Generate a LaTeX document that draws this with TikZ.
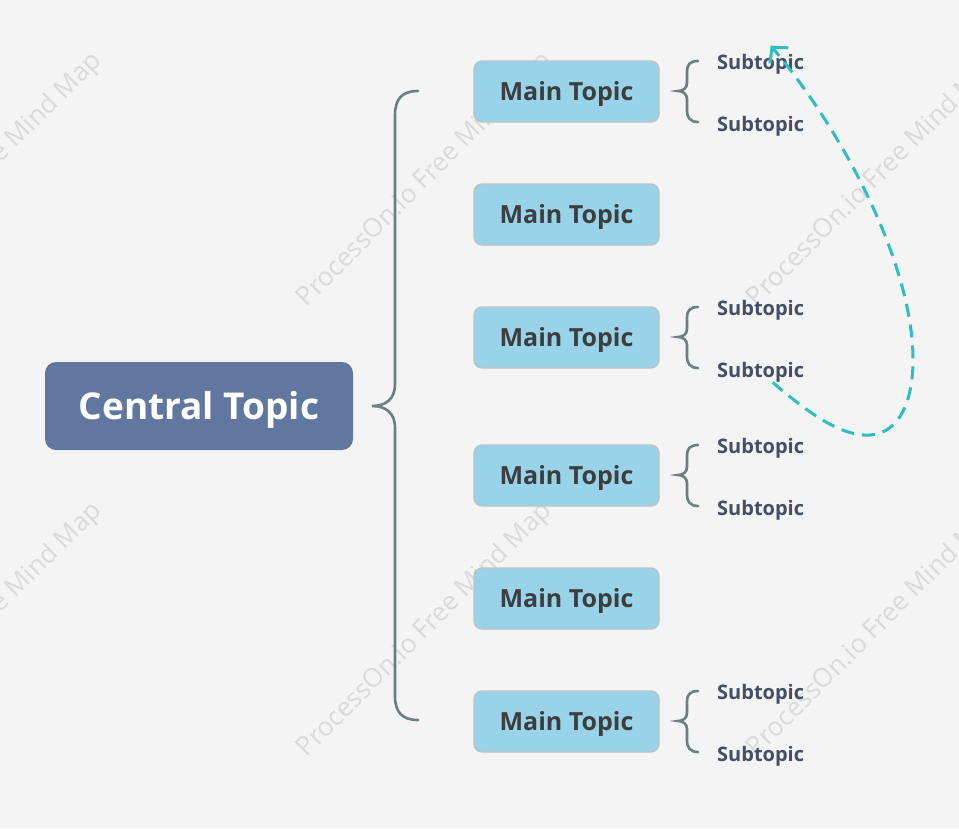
\documentclass[tikz,border=0pt]{standalone}
\usepackage{fontspec}
\setmainfont{Open Sans}
\usetikzlibrary{arrows.meta}
\definecolor{bgc}{HTML}{F4F4F4}
\definecolor{centralc}{HTML}{61779F}
\definecolor{mainc}{HTML}{99D3E9}
\definecolor{mainborder}{HTML}{BDC3C5}
\definecolor{maintext}{HTML}{3D3D3D}
\definecolor{subtext}{HTML}{434E68}
\definecolor{bracec}{HTML}{6A7F7F}
\definecolor{arrowc}{HTML}{2CBFBF}
\definecolor{wmc}{HTML}{DADADA}
\tikzset{
  central/.style={rectangle, rounded corners=11pt, fill=centralc, text=white,
    minimum width=308pt, minimum height=88pt, inner sep=0pt,
    text height=26.4pt, text depth=0pt,
    font=\fontsize{37}{40}\selectfont\bfseries},
  maintopic/.style={rectangle, rounded corners=8pt, fill=mainc, draw=mainborder,
    line width=1.3pt, minimum width=185pt, minimum height=61pt, inner sep=0pt,
    text height=17.9pt, text depth=0pt,
    text=maintext, font=\fontsize{25}{28}\selectfont\bfseries},
  subtopic/.style={anchor=west, inner sep=0pt, text=subtext,
    text height=14.3pt, text depth=0pt,
    font=\fontsize{20}{24}\selectfont\bfseries},
  bracepath/.style={draw=bracec, line width=2.6pt, line cap=round},
  dasharrow/.style={draw=arrowc, line width=3pt, dash pattern=on 13pt off 8pt,
    -{Straight Barb[length=11pt,width=24pt,line width=3pt]}},
  watermark/.style={text=wmc, rotate=45, font=\fontsize{26}{30}\selectfont}
}
\newcommand{\smallbrace}[1]{%
  \draw[bracepath] (698,#1-30) .. controls (690,#1-30) and (687,#1-26) .. (687,#1-20)
    -- (687,#1-8) .. controls (687,#1-3) and (683,#1) .. (678,#1)
    .. controls (683,#1) and (687,#1+3) .. (687,#1+8)
    -- (687,#1+20) .. controls (687,#1+26) and (690,#1+31) .. (698,#1+31);}
\begin{document}
\begin{tikzpicture}[x=1pt,y=-1pt]
\useasboundingbox (0,0) rectangle (959,828);
\fill[bgc] (0,0) rectangle (959,828);
% watermarks
\begin{scope}
\clip (0,0) rectangle (959,828);
\foreach \wx/\wy [count=\i] in {-25/180, 425/180, 875/180, -25/630, 425/630, 875/630}
  \node[watermark] (wm\i) at (\wx,\wy) {ProcessOn.io Free Mind Map};
\end{scope}
% central
\node[central] (c) at (199,406) {Central Topic};
% main topics
\foreach \y [count=\i] in {91.5, 214.5, 337.5, 475.5, 598.5, 721.5}
  \node[maintopic] (m\i) at (566.5,\y) {Main Topic};
% big brace
\coordinate (btop) at (418,91);
\coordinate (btip) at (372,406);
\coordinate (bbot) at (418,720);
\draw[bracepath] (btop) .. controls (402,91) and (395,99) .. (395,115)
  -- (395,384) .. controls (395,399) and (386,406) .. (btip)
  .. controls (386,406) and (395,413) .. (395,428)
  -- (395,696) .. controls (395,712) and (402,720) .. (bbot);
% small braces
\smallbrace{91}
\smallbrace{337}
\smallbrace{475}
\smallbrace{721}
% subtopics
\node[subtopic] (s1a) at (717,62) {Subtopic};
\node[subtopic] (s1b) at (717,124) {Subtopic};
\node[subtopic] (s3a) at (717,308) {Subtopic};
\node[subtopic] (s3b) at (717,370) {Subtopic};
\node[subtopic] (s4a) at (717,446) {Subtopic};
\node[subtopic] (s4b) at (717,508) {Subtopic};
\node[subtopic] (s6a) at (717,692) {Subtopic};
\node[subtopic] (s6b) at (717,754) {Subtopic};
% dashed arrow
\coordinate (abot) at (870,435);
\coordinate (aright) at (913,360);
\draw[dasharrow] ([xshift=12pt,yshift=-5pt]s3b.south) .. controls (805,410) and (840,437) .. (abot)
  .. controls (900,433) and (913,400) .. (aright)
  .. controls (913,260) and (838,125) .. ([xshift=10pt,yshift=9pt]s1a.north);
\end{tikzpicture}
\end{document}
